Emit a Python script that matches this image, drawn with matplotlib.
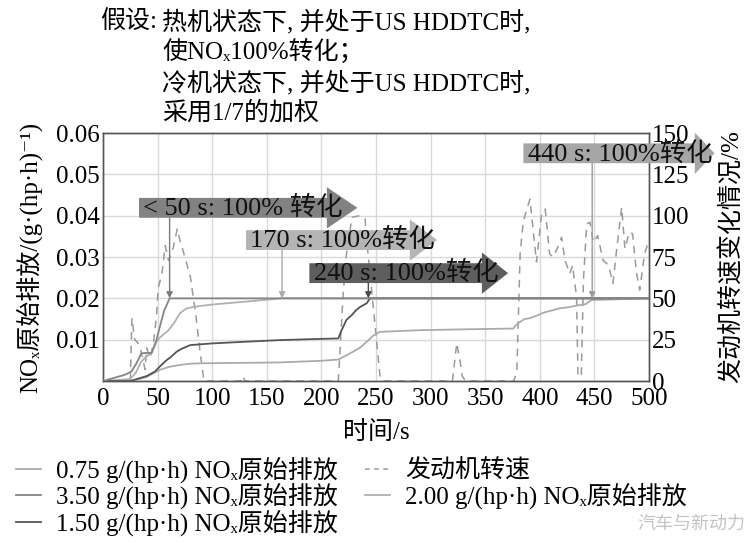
import matplotlib
matplotlib.use("Agg")
import matplotlib.pyplot as plt
from matplotlib.patches import Polygon

plt.rcParams['font.family'] = ['Liberation Serif', 'Noto Sans CJK SC', 'DejaVu Serif']
plt.rcParams['axes.unicode_minus'] = False

# --- 数据 ---
t_350 = [0, 20, 26, 30, 33, 35, 40, 44.6, 48, 52, 56, 61, 500]
v_350 = [0, 0.0015, 0.0023, 0.004, 0.0055, 0.0067, 0.0068, 0.0068, 0.009, 0.0131, 0.017, 0.020, 0.020]

t_200 = [0, 25, 30, 35, 40, 44, 47.6, 52, 60, 65, 70.5, 76, 84, 100, 130, 164, 500]
v_200 = [0, 0.0005, 0.002, 0.0047, 0.006, 0.0065, 0.0091, 0.0105, 0.0123, 0.014, 0.0164,
         0.0175, 0.018, 0.0185, 0.0192, 0.020, 0.020]

t_150 = [0, 25, 40, 47.6, 52, 58, 62, 67.5, 72, 80, 100, 130, 162, 200, 215.5, 218, 223,
         228, 232, 236, 241.5, 244.5, 500]
v_150 = [0, 0, 0.0012, 0.0023, 0.0035, 0.005, 0.0058, 0.0071, 0.0078, 0.0087, 0.0091, 0.0095,
         0.0099, 0.0102, 0.0103, 0.012, 0.0148, 0.016, 0.0172, 0.018, 0.0188, 0.020, 0.020]

t_075 = [0, 27, 40, 52, 60, 70.5, 80, 92, 130, 162, 200, 215.5, 225, 235, 241.5, 247.5, 253.7,
         290, 330, 375.8, 378, 382, 386, 391, 397, 403, 410, 418.5, 425, 436.8, 442, 447.5, 500]
v_075 = [0, 0, 0.001, 0.0027, 0.0034, 0.0039, 0.0042, 0.0043, 0.0044, 0.0045, 0.0049, 0.0052,
         0.0065, 0.008, 0.0095, 0.011, 0.0119, 0.0123, 0.0125, 0.0127, 0.0135, 0.0143, 0.015,
         0.0152, 0.0158, 0.0165, 0.017, 0.0176, 0.0178, 0.0184, 0.0186, 0.0196, 0.020]

speed_t = [0, 25, 26.5, 29, 32, 35, 38.5, 40, 43, 46, 49, 50.5, 54, 57, 60, 64.5, 68, 70.5, 75,
           80, 85, 89, 92.5, 95, 126, 128, 130, 213, 215.5, 220, 223, 228, 235, 240, 241.5,
           247.5, 253.7, 256, 320, 324, 327, 329, 332, 376, 379, 382, 385, 391, 394, 397,
           401.7, 405, 409, 412, 416, 420, 423, 427.6, 430, 433.7, 435, 438, 440, 443, 446,
           449, 453, 458, 463, 467, 470.5, 475, 478, 482, 485, 488.5, 491.5, 496, 500]
speed_v = [0, 0, 38, 25, 23, 18, 7, 20, 14, 22, 39, 56, 65, 82, 73, 81, 92, 85, 75,
           63, 40, 17, 0, 0, 0, 3, 0, 0, 0, 53, 77, 99, 100, 98, 85,
           45, 3, 0, 0, 23, 12, 3, 0, 0, 5, 77, 97, 110, 91, 72,
           101, 104, 77, 75, 80, 87, 73, 65, 70, 51, 3, 3, 61, 95, 96,
           84, 88, 73, 70, 59, 80, 105, 80, 90, 89, 66, 55, 77, 85]

# 注释箭头: 文字, 框左端x, 框右端x, 箭头尖x, 中心y, 颜色, 引线x, 引线颜色
arrow_labels = ['< 50 s: 100% 转化', '170 s: 100%转化', '240 s: 100%转化', '440 s: 100%转化']
arrow_x0 = [33, 131, 189, 385]
arrow_x1 = [205, 281, 347, 542]
arrow_tip = [233, 306, 371, 560]
arrow_y = [0.0419, 0.0341, 0.0261, 0.0551]
arrow_colors = ['#828282', '#b4b4b4', '#5e5e5e', '#a6a6a6']
lead_x = [61, 164, 243, 448]
lead_colors = ['#7a7a7a', '#ababab', '#4a4a4a', '#9a9a9a']

FS = 18

fig = plt.figure(figsize=(7.48, 5.42), dpi=100)
ax = fig.add_axes([0.1377, 0.297, 0.7299, 0.4576])
ax2 = ax.twinx()

ax2.plot(speed_t, speed_v, color='#9a9a9a', linestyle=(0, (5, 4)), linewidth=1.1)
ax.plot(t_075, v_075, color='#ababab', linewidth=1.3, zorder=3)
ax.plot(t_200, v_200, color='#b0b0b0', linewidth=1.3, zorder=3)
ax.plot(t_150, v_150, color='#555555', linewidth=1.3, zorder=3)
ax.plot(t_350, v_350, color='#858585', linewidth=1.3, zorder=3)

ax.set_zorder(ax2.get_zorder() + 1)
ax.patch.set_visible(False)

ax.set_xlim(0, 500)
ax.set_ylim(0, 0.06)
ax2.set_ylim(0, 150)
ax.set_xticks(range(0, 501, 50))
ax.set_yticks([0.01, 0.02, 0.03, 0.04, 0.05, 0.06])
ax.set_yticklabels(['0.01', '0.02', '0.03', '0.04', '0.05', '0.06'])
ax2.set_yticks(range(0, 151, 25))
ax2.grid(True, color='#d9d9d9', linewidth=1.0)
ax2.set_axisbelow(True)
for tx in range(50, 500, 50):
    ax2.axvline(tx, color='#d9d9d9', linewidth=1.0, zorder=0)

for a in (ax, ax2):
    a.tick_params(length=0, labelsize=FS, pad=2)
    for s in a.spines.values():
        s.set_color('#555555')
        s.set_linewidth(1.0)
ax.tick_params(axis='x', pad=5)

ax.set_xlabel('时间/s', fontsize=FS, labelpad=8)
ax.set_ylabel('NOₓ原始排放/(g·(hp·h)⁻¹)', fontsize=FS, labelpad=10)
ax2.set_ylabel('发动机转速变化情况/%', fontsize=FS, labelpad=22)

# 块状箭头与引线
for i in range(len(arrow_labels)):
    box_h = 0.0024
    head_h = 0.0050
    pts = [(arrow_x0[i], arrow_y[i] - box_h), (arrow_x1[i], arrow_y[i] - box_h),
           (arrow_x1[i], arrow_y[i] - head_h), (arrow_tip[i], arrow_y[i]),
           (arrow_x1[i], arrow_y[i] + head_h), (arrow_x1[i], arrow_y[i] + box_h),
           (arrow_x0[i], arrow_y[i] + box_h)]
    ax.add_patch(Polygon(pts, closed=True, facecolor=arrow_colors[i], edgecolor='none',
                         clip_on=False, zorder=5))
    ax.text(arrow_x0[i] + 4, arrow_y[i], arrow_labels[i], fontsize=19, color='#111111',
            va='center', ha='left', zorder=6, clip_on=False)
    ax.annotate('', xy=(lead_x[i], 0.020), xytext=(lead_x[i], arrow_y[i] - box_h),
                arrowprops=dict(arrowstyle='-|>', color=lead_colors[i], lw=1.0,
                                mutation_scale=9, shrinkA=0, shrinkB=0),
                zorder=4)

# 顶部说明文字
fig.text(100 / 748, 1 - 22 / 542, '假设:', fontsize=FS, va='center', ha='left')
fig.text(162 / 748, 1 - 22 / 542, '热机状态下, 并处于US HDDTC时,', fontsize=FS, va='center', ha='left')
fig.text(162 / 748, 1 - 52 / 542, '使NOₓ100%转化；', fontsize=FS, va='center', ha='left')
fig.text(162 / 748, 1 - 83 / 542, '冷机状态下, 并处于US HDDTC时,', fontsize=FS, va='center', ha='left')
fig.text(162 / 748, 1 - 113 / 542, '采用1/7的加权', fontsize=FS, va='center', ha='left')

# 图例
h1, = ax.plot([], [], color='#ababab', linewidth=1.3)
h2, = ax.plot([], [], color='#858585', linewidth=1.3)
h3, = ax.plot([], [], color='#555555', linewidth=1.3)
h4, = ax.plot([], [], color='#9a9a9a', linestyle=(0, (3, 3)), linewidth=1.1)
h5, = ax.plot([], [], color='#b0b0b0', linewidth=1.3)
fig.legend([h1, h2, h3, h4, h5],
           ['0.75 g/(hp·h) NOₓ原始排放', '3.50 g/(hp·h) NOₓ原始排放', '1.50 g/(hp·h) NOₓ原始排放',
            '发动机转速', '2.00 g/(hp·h) NOₓ原始排放'],
           ncol=2, loc='upper left', bbox_to_anchor=(0.005, 1 - 444 / 542), frameon=False,
           fontsize=FS, handlelength=1.0, handletextpad=0.6, labelspacing=0.0,
           columnspacing=1.1, borderpad=0.0)

fig.text(745 / 748, 1 - 524 / 542, '汽车与新动力', fontsize=13, color='#c4c4c4',
         ha='right', va='center', family=['Noto Sans CJK SC'])

fig.savefig('out.png', dpi=100)
